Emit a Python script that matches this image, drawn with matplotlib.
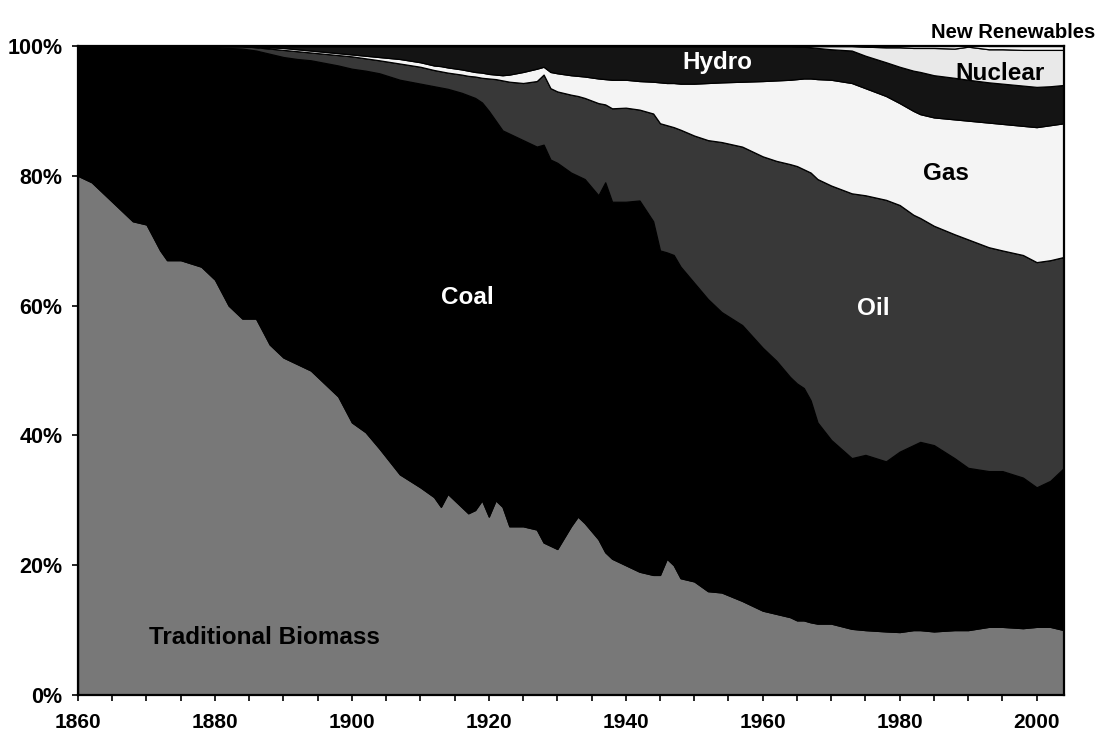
import matplotlib
matplotlib.use("Agg")
import matplotlib.pyplot as plt
from matplotlib.ticker import MultipleLocator, FuncFormatter

plt.rcParams['font.family'] = ['Liberation Sans', 'DejaVu Sans']

years = [1860, 1862, 1865, 1868, 1870, 1872, 1873, 1875, 1878, 1880,
         1882, 1884, 1886, 1888, 1890, 1892, 1894, 1896, 1898, 1900,
         1902, 1904, 1907, 1910, 1912, 1913, 1914, 1916, 1917, 1918,
         1919, 1920, 1921, 1922, 1923, 1925, 1927, 1928, 1929, 1930,
         1932, 1933, 1934, 1936, 1937, 1938, 1940, 1942, 1944, 1945,
         1946, 1947, 1948, 1950, 1952, 1954, 1957, 1960, 1962, 1964,
         1965, 1966, 1967, 1968, 1970, 1973, 1975, 1978, 1980, 1982,
         1983, 1985, 1988, 1990, 1993, 1995, 1998, 2000, 2002, 2004]

biomass = [80, 79, 76, 73, 72.5, 68.5, 67, 67, 66, 64,
           60, 58, 58, 54, 52, 51, 50, 48, 46, 42,
           40.5, 38, 34, 32, 30.5, 29, 31, 29, 28, 28.5,
           30, 27.5, 30, 29, 26, 26, 25.5, 23.5, 23, 22.5,
           26, 27.5, 26.5, 24, 22, 21, 20, 19, 18.5, 18.5,
           21, 20, 18, 17.5, 16, 15.8, 14.5, 13, 12.5, 12,
           11.5, 11.5, 11.2, 11, 11, 10.2, 10, 9.8, 9.7, 10,
           10, 9.8, 10, 10, 10.5, 10.5, 10.3, 10.5, 10.5, 10]

coal = [20, 21, 24, 27, 27.5, 31.5, 33, 33, 34, 35.8,
        39.7, 41.6, 41.3, 44.8, 46.3, 47, 47.8, 49.4, 51, 54.5,
        55.7, 57.8, 60.8, 62.2, 63.3, 64.6, 62.4, 63.8, 64.4, 63.5,
        61.3, 62.5, 58.5, 58, 60.5, 59.5, 59, 61.3, 59.5, 59.5,
        54.5, 52.5, 53, 53, 57, 55, 56, 57.2, 54.5, 50,
        47.2, 47.8, 48, 46, 45, 43.2, 42.5, 40.5, 39, 37,
        36.5, 35.8, 34.2, 31, 28.3, 26.3, 27, 26.2, 27.8, 28.5,
        29, 28.7, 26.5, 25, 24, 24, 23.2, 21.5, 22.5, 25]

oil = [0, 0, 0, 0, 0, 0, 0, 0, 0, 0.2,
       0.3, 0.4, 0.5, 0.8, 1.1, 1.2, 1.2, 1.4, 1.6, 1.9,
       1.9, 2.0, 2.5, 2.6, 2.5, 2.5, 2.5, 2.8, 3.0, 3.3,
       3.8, 5.0, 6.4, 7.7, 8, 8.8, 10.1, 10.8, 11, 11,
       12, 12.3, 12.5, 14.2, 12, 14.4, 14.5, 14, 16.6, 19.6,
       19.6, 19.7, 21.1, 22.7, 24.5, 26.2, 27.5, 29.5, 30.8, 32.8,
       33.5, 33.7, 35.1, 37.5, 39.2, 40.8, 40, 40.3, 38, 35.5,
       34.5, 33.8, 34.5, 35.2, 34.5, 34, 34.3, 34.7, 34, 32.5]

gas = [0, 0, 0, 0, 0, 0, 0, 0, 0, 0,
       0, 0, 0.1, 0.2, 0.3, 0.3, 0.3, 0.3, 0.3, 0.3,
       0.4, 0.5, 0.7, 0.7, 0.7, 0.8, 0.8, 0.8, 0.8, 0.7,
       0.8, 0.7, 0.7, 0.8, 1.1, 1.7, 1.9, 1.2, 2.5, 2.8,
       3, 3.1, 3.3, 3.8, 3.9, 4.4, 4.3, 4.4, 4.9, 6.3,
       6.5, 6.8, 7.1, 8, 8.8, 9.2, 10, 11.6, 12.4, 13,
       13.4, 14, 14.5, 15.4, 16.3, 17, 16.5, 16, 15.7, 16,
       16, 16.7, 17.7, 18.3, 19.2, 19.5, 19.9, 20.8, 20.8, 20.6]

hydro = [0, 0, 0, 0, 0, 0, 0, 0, 0, 0,
         0, 0, 0.1, 0.2, 0.3, 0.5, 0.7, 0.9, 1.1, 1.3,
         1.5, 1.7, 2.0, 2.5, 3.0, 3.1, 3.3, 3.6, 3.8, 4.0,
         4.1, 4.3, 4.4, 4.5, 4.4, 4.0, 3.5, 3.2, 4.0, 4.2,
         4.5, 4.6, 4.7, 5.0, 5.1, 5.2, 5.2, 5.4, 5.5, 5.6,
         5.7, 5.7, 5.8, 5.8, 5.7, 5.6, 5.5, 5.4, 5.3, 5.2,
         5.05, 4.9, 4.8, 4.8, 4.7, 5.0, 5.0, 5.2, 5.6, 6.2,
         6.5, 6.5, 6.4, 6.3, 6.2, 6.2, 6.2, 6.2, 6.0, 5.9]

nuclear = [0] * 60 + [
           0.05, 0.1, 0.2, 0.3, 0.5, 0.7, 1.4, 2.3, 3.0, 3.5,
           3.7, 4.2, 4.5, 5.1, 5.1, 5.3, 5.5, 5.7, 5.6, 5.4]

new_renewables = [0] * 66 + [
                  0.1, 0.2, 0.2, 0.3,
                  0.3, 0.3, 0.4, 0.4, 0.5, 0.5, 0.6, 0.6, 0.6, 0.6]

series = [biomass, coal, oil, gas, hydro, nuclear, new_renewables]
colors = ['#787878', '#000000', '#383838', '#f4f4f4', '#141414', '#e9e9e9', '#f8f8f8']

fig = plt.figure(figsize=(10.99, 7.36), dpi=100)
ax = fig.add_axes([78 / 1099, 1 - 695 / 736, (1064 - 78) / 1099, (695 - 46) / 736])

ax.stackplot(years, *series, colors=colors, edgecolor='black', linewidth=0.9)

ax.set_xlim(1860, 2004)
ax.set_ylim(0, 100)

ax.xaxis.set_major_locator(MultipleLocator(20))
ax.xaxis.set_minor_locator(MultipleLocator(5))
ax.yaxis.set_major_locator(MultipleLocator(20))
ax.yaxis.set_major_formatter(FuncFormatter(lambda v, p: f"{int(v)}%"))
ax.tick_params(axis='both', which='both', direction='out', length=4.5, width=1.2)
ax.tick_params(axis='y', which='major', pad=6.5, labelsize=15.5)
ax.tick_params(axis='x', which='major', pad=8.5, labelsize=15)
for lab in ax.get_xticklabels() + ax.get_yticklabels():
    lab.set_fontweight('bold')
for s in ax.spines.values():
    s.set_linewidth(1.6)
    s.set_color('black')

fs = 17.5
ax.text(1887.3, 8.9, 'Traditional Biomass', ha='center', va='center', fontsize=fs, fontweight='bold', color='black')
ax.text(1916.8, 61.2, 'Coal', ha='center', va='center', fontsize=fs, fontweight='bold', color='white')
ax.text(1976.2, 59.5, 'Oil', ha='center', va='center', fontsize=fs, fontweight='bold', color='white')
ax.text(1986.8, 80.4, 'Gas', ha='center', va='center', fontsize=fs, fontweight='bold', color='black')
ax.text(1994.7, 95.8, 'Nuclear', ha='center', va='center', fontsize=fs, fontweight='bold', color='black')
ax.text(1953.4, 97.4, 'Hydro', ha='center', va='center', fontsize=fs, fontweight='bold', color='white')
fig.text(1095 / 1099, 1 - 33 / 736, 'New Renewables', ha='right', va='center', fontsize=14.6, fontweight='bold', color='black')

fig.savefig('out.png', dpi=100)
